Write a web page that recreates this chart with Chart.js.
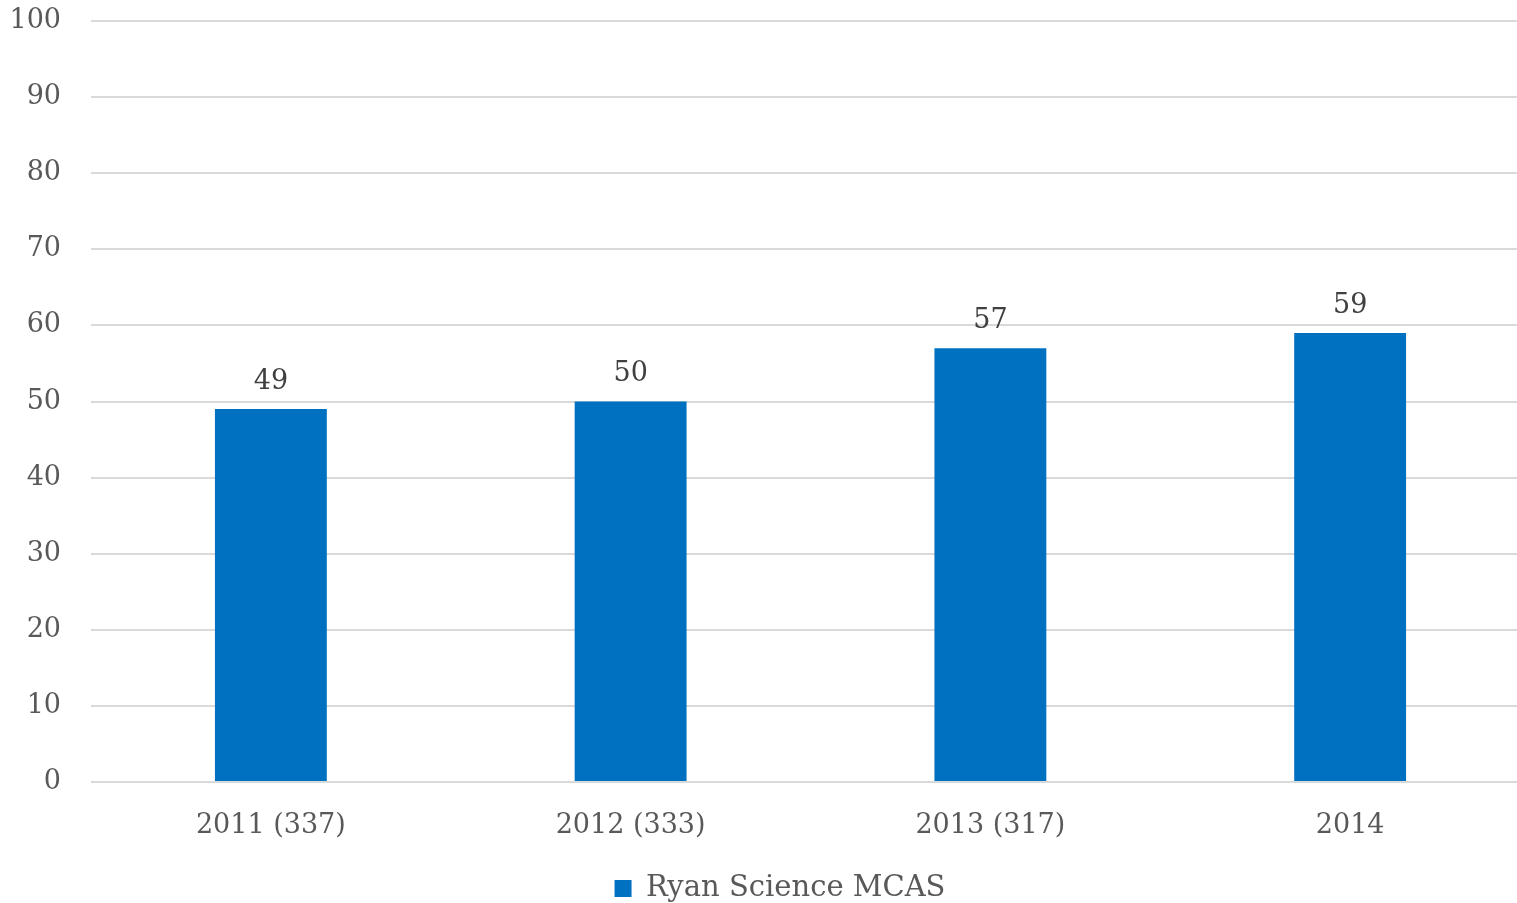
<!DOCTYPE html>
<html>
<head>
<meta charset="utf-8">
<script src="https://cdn.jsdelivr.net/npm/chart.js@4/dist/chart.umd.min.js"></script>
<style>
html,body{margin:0;padding:0;overflow:hidden;background:#fff;}
#wrap{width:1592px;height:913px;position:relative;}
</style>
</head>
<body>
<div id="wrap"><canvas id="c"></canvas></div>
<script>
const categories = ["2011 (337)", "2012 (333)", "2013 (317)", "2014"];
const seriesName = "Ryan Science MCAS";
const seriesValues = [49, 50, 57, 59];
const yTicks = [0, 10, 20, 30, 40, 50, 60, 70, 80, 90, 100];

const FONT = "'DejaVu Serif', serif";

const labelPlugin = {
  id: 'valueLabels',
  afterDatasetsDraw(chart) {
    const ctx = chart.ctx;
    const meta = chart.getDatasetMeta(0);
    ctx.save();
    ctx.font = "27px " + FONT;
    ctx.fillStyle = "#404040";
    ctx.textAlign = "center";
    ctx.textBaseline = "bottom";
    meta.data.forEach((bar, i) => {
      ctx.fillText(String(chart.data.datasets[0].data[i]), bar.x, bar.y - 14);
    });
    ctx.restore();
  }
};

const legendShift = {
  id: 'legendShift',
  afterLayout(chart) {
    if (chart.legend) { chart.legend.left += 15; chart.legend.right += 15; }
  }
};

new Chart(document.getElementById('c'), {
  type: 'bar',
  data: {
    labels: categories,
    datasets: [{
      label: seriesName,
      data: seriesValues,
      backgroundColor: '#0070C0',
      borderWidth: 0,
      barPercentage: 0.311,
      categoryPercentage: 1.0
    }]
  },
  options: {
    responsive: true,
    maintainAspectRatio: false,
    animation: false,
    layout: { padding: { top: 21, right: 62, left: 0, bottom: 0 } },
    plugins: {
      tooltip: { enabled: false },
      legend: {
        position: 'bottom',
        labels: {
          font: { family: FONT, size: 29 },
          color: '#595959',
          boxWidth: 17,
          boxHeight: 17,
          padding: 3
        }
      }
    },
    scales: {
      x: {
        grid: { display: false },
        border: { display: false },
        ticks: { font: { family: FONT, size: 27 }, color: '#595959', padding: 20 },
        afterFit(scale) { scale.height = 89; }
      },
      y: {
        min: 0, max: 100,
        afterBuildTicks(scale) { scale.ticks = yTicks.map(v => ({ value: v })); },
        grid: { color: '#d9d9d9', lineWidth: 2, drawTicks: false },
        border: { display: false },
        ticks: { font: { family: FONT, size: 27 }, color: '#595959', padding: 30 },
        afterFit(scale) { scale.width = 91; scale.paddingTop = 0; scale.paddingBottom = 0; }
      }
    }
  },
  plugins: [labelPlugin, legendShift]
});
</script>
</body>
</html>
